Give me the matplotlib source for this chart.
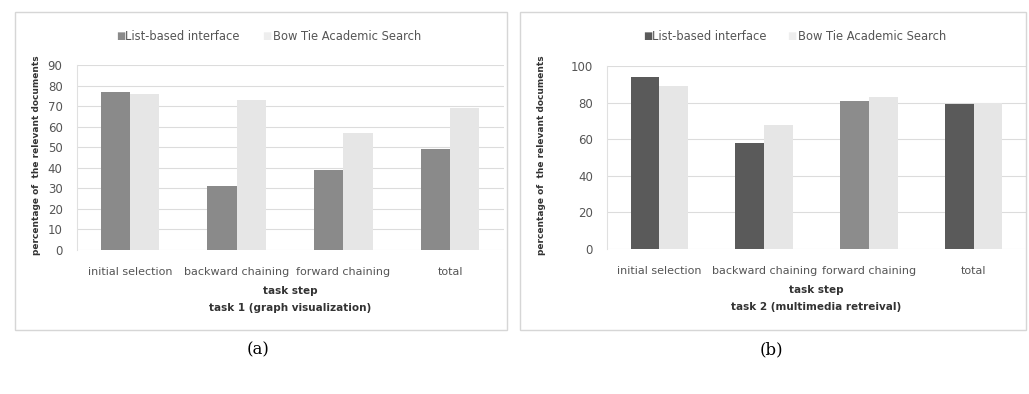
import matplotlib.pyplot as plt
import numpy as np
from matplotlib.patches import Rectangle

steps = ["initial selection", "backward chaining", "forward chaining", "total"]
series_names = ["List-based interface", "Bow Tie Academic Search"]

task1_list = [77, 31, 39, 49]
task1_bowtie = [76, 73, 57, 69]
task2_list = [94, 58, 81, 79]
task2_bowtie = [89, 68, 83, 80]

task1_ticks = [0, 10, 20, 30, 40, 50, 60, 70, 80, 90]
task2_ticks = [0, 20, 40, 60, 80, 100]

W, H = 1029, 394
fig = plt.figure(figsize=(W / 100, H / 100), dpi=100)


def box(x0, y0, x1, y1):
    # pixel box (top-left origin) -> figure fraction rect
    return [x0 / W, 1 - y1 / H, (x1 - x0) / W, (y1 - y0) / H]


# panel frames
for x0, x1 in [(15, 507), (520, 1026)]:
    r = box(x0, 12, x1, 330)
    fig.patches.append(Rectangle((r[0], r[1]), r[2], r[3], transform=fig.transFigure,
                                 fill=False, edgecolor="#d6d6d6", lw=1.0))


def panel(rect, a, b, ticks, dark, subtitle, legx, leg2x, ylab_x):
    ax = fig.add_axes(box(*rect))
    x = np.arange(len(steps))
    w = 0.275
    ax.bar(x - w / 2, a, w, color=dark, zorder=3)
    ax.bar(x + w / 2, b, w, color="#e6e6e6", zorder=3)
    ax.set_xlim(-0.5, len(steps) - 0.5)
    ax.set_ylim(0, ticks[-1])
    ax.set_yticks(ticks)
    ax.yaxis.grid(True, color="#dcdcdc", lw=0.8, zorder=0)
    for s in ["top", "right", "bottom"]:
        ax.spines[s].set_visible(False)
    ax.spines["left"].set_color("#e0e0e0")
    ax.tick_params(axis="y", length=0, labelsize=8.5, labelcolor="#555555", pad=10)
    ax.tick_params(axis="x", length=0, labelsize=8, labelcolor="#555555", pad=12)
    ax.set_xticks(x)
    ax.set_xticklabels(steps)
    ax.set_xlabel("task step\n" + subtitle, fontsize=7.5, fontweight="bold",
                  color="#333333", linespacing=1.8, labelpad=7)
    fig.text(ylab_x / W, 1 - 155 / H, "percentage of  the relevant documents",
             rotation=90, ha="center", va="center", fontsize=6.5,
             fontweight="bold", color="#333333")
    # legend
    fig.text(legx / W, 1 - 36 / H, "\u25a0", color=dark if isinstance(dark, str) else dark[0],
             fontsize=7, va="center")
    fig.text((legx + 9) / W, 1 - 36 / H, series_names[0], fontsize=8.3,
             color="#555555", va="center")
    fig.text((leg2x - 11) / W, 1 - 36 / H, "\u25a0", color="#eeeeee",
             fontsize=7, va="center")
    fig.text(leg2x / W, 1 - 36 / H, series_names[1], fontsize=8.3,
             color="#555555", va="center")
    return ax


panel((76.5, 65, 503.5, 250), task1_list, task1_bowtie, task1_ticks,
      "#8a8a8a", "task 1 (graph visualization)", 116, 273, 37)
panel((607, 66, 1026, 249), task2_list, task2_bowtie, task2_ticks,
      ["#5a5a5a", "#5a5a5a", "#8c8c8c", "#5a5a5a"],
      "task 2 (multimedia retreival)", 643, 798, 541)

fig.text(258 / W, 1 - 350 / H, "(a)", fontsize=12, family="DejaVu Serif",
         ha="center", va="center")
fig.text(771 / W, 1 - 350 / H, "(b)", fontsize=12, family="DejaVu Serif",
         ha="center", va="center")

fig.savefig("out.png", dpi=100)
